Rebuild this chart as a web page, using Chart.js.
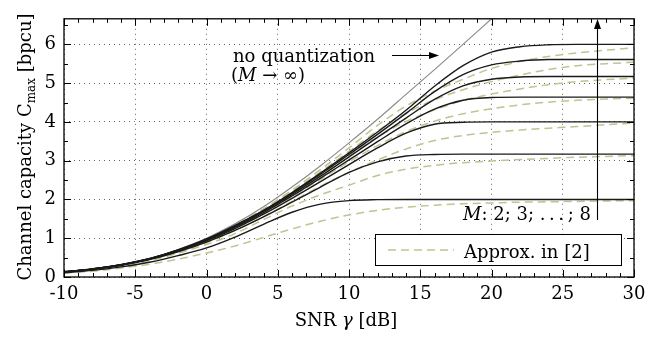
<!DOCTYPE html>
<html>
<head>
<meta charset="utf-8">
<script src="https://cdn.jsdelivr.net/npm/chart.js@4/dist/chart.umd.min.js"></script>
<style>
  body { margin: 0; background: #fff; }
  canvas { display: block; }
</style>
</head>
<body>
<canvas id="capChart" width="657" height="337"></canvas>
<script>
// SNR grid (dB) used for all curves
const snrDb = [-10, -8, -6, -4, -2, 0, 2, 4, 6, 8, 10, 12, 14, 16, 18, 20, 22, 24, 26, 28, 30];

// no quantization (M -> inf), stops where it leaves the plot at 20 dB
const noQuant = [0.14, 0.21, 0.32, 0.48, 0.71, 1.00, 1.37, 1.81, 2.32, 2.87, 3.46, 4.07, 4.71, 5.35, 6.00, 6.66];

// exact capacity, M = 2 ... 8
const capM2 = [0.11, 0.17, 0.26, 0.38, 0.55, 0.75, 1.03, 1.36, 1.67, 1.88, 1.97, 1.995, 2.0, 2.0, 2.0, 2.0, 2.0, 2.0, 2.0, 2.0, 2.0];
const capM3 = [0.13, 0.20, 0.30, 0.45, 0.65, 0.90, 1.20, 1.55, 1.93, 2.32, 2.70, 2.97, 3.12, 3.16, 3.17, 3.17, 3.17, 3.17, 3.17, 3.17, 3.17];
const capM4 = [0.13, 0.20, 0.31, 0.46, 0.67, 0.93, 1.25, 1.62, 2.03, 2.46, 2.90, 3.33, 3.71, 3.94, 3.99, 4.0, 4.0, 4.0, 4.0, 4.0, 4.0];
const capM5 = [0.13, 0.20, 0.31, 0.46, 0.68, 0.95, 1.28, 1.66, 2.09, 2.55, 3.02, 3.49, 3.95, 4.33, 4.56, 4.63, 4.64, 4.64, 4.64, 4.64, 4.64];
const capM6 = [0.135, 0.21, 0.31, 0.47, 0.69, 0.96, 1.30, 1.69, 2.13, 2.60, 3.10, 3.60, 4.10, 4.58, 4.93, 5.10, 5.16, 5.17, 5.17, 5.17, 5.17];
const capM7 = [0.135, 0.21, 0.32, 0.47, 0.69, 0.97, 1.32, 1.71, 2.16, 2.65, 3.16, 3.68, 4.22, 4.78, 5.22, 5.47, 5.57, 5.61, 5.61, 5.61, 5.61];
const capM8 = [0.135, 0.21, 0.32, 0.47, 0.70, 0.98, 1.33, 1.72, 2.18, 2.68, 3.20, 3.74, 4.30, 4.92, 5.45, 5.80, 5.94, 5.99, 6.0, 6.0, 6.0];

// approximation from [2], M = 2 ... 8
const apxM2 = [0.10, 0.15, 0.23, 0.33, 0.46, 0.62, 0.80, 1.02, 1.24, 1.44, 1.60, 1.72, 1.80, 1.85, 1.89, 1.91, 1.93, 1.94, 1.95, 1.96, 1.97];
const apxM3 = [0.12, 0.19, 0.28, 0.42, 0.61, 0.84, 1.12, 1.48, 1.83, 2.12, 2.37, 2.62, 2.78, 2.88, 2.95, 2.99, 3.03, 3.06, 3.09, 3.11, 3.13];
const apxM4 = [0.13, 0.19, 0.29, 0.44, 0.64, 0.89, 1.20, 1.56, 1.95, 2.34, 2.70, 3.02, 3.30, 3.52, 3.65, 3.73, 3.79, 3.84, 3.88, 3.93, 3.97];
const apxM5 = [0.13, 0.20, 0.30, 0.45, 0.66, 0.93, 1.26, 1.64, 2.07, 2.52, 2.97, 3.39, 3.75, 4.02, 4.21, 4.34, 4.44, 4.51, 4.56, 4.59, 4.61];
const apxM6 = [0.13, 0.20, 0.31, 0.46, 0.68, 0.95, 1.30, 1.70, 2.15, 2.64, 3.14, 3.61, 4.01, 4.31, 4.55, 4.72, 4.85, 4.96, 5.04, 5.09, 5.13];
const apxM7 = [0.13, 0.20, 0.31, 0.47, 0.69, 0.97, 1.32, 1.73, 2.20, 2.71, 3.24, 3.77, 4.22, 4.57, 4.83, 5.04, 5.21, 5.35, 5.45, 5.50, 5.54];
const apxM8 = [0.135, 0.21, 0.32, 0.47, 0.70, 0.98, 1.34, 1.76, 2.24, 2.77, 3.33, 3.91, 4.41, 4.79, 5.10, 5.38, 5.56, 5.69, 5.78, 5.85, 5.91];

const xTicks = [-10, -5, 0, 5, 10, 15, 20, 25, 30];
const yTicks = [0, 1, 2, 3, 4, 5, 6];

const FONT = '"DejaVu Serif", serif';
const exactCurves = [capM2, capM3, capM4, capM5, capM6, capM7, capM8];
const approxCurves = [apxM2, apxM3, apxM4, apxM5, apxM6, apxM7, apxM8];

function toPoints(vals) {
  return vals.map((v, i) => ({ x: snrDb[i], y: v }));
}

const datasets = [];
exactCurves.forEach((c, i) => {
  datasets.push({
    label: 'M = ' + (i + 2),
    data: toPoints(c),
    borderColor: '#1a1a1a',
    borderWidth: 1.4,
    pointRadius: 0,
    cubicInterpolationMode: 'monotone',
    order: 0
  });
});
datasets.push({
  label: 'no quantization',
  data: toPoints(noQuant),
  borderColor: '#8c8c8c',
  borderWidth: 1.2,
  pointRadius: 0,
  cubicInterpolationMode: 'monotone',
  order: 1
});
approxCurves.forEach((c, i) => {
  datasets.push({
    label: 'Approx. M = ' + (i + 2),
    data: toPoints(c),
    borderColor: 'rgb(194,194,146)',
    borderWidth: 1.5,
    borderDash: [8, 5],
    pointRadius: 0,
    cubicInterpolationMode: 'monotone',
    order: 2
  });
});

// draws text pieces one after another, each with its own font / shift
function drawRuns(ctx, runs, x, y, align) {
  let total = 0;
  runs.forEach(r => { ctx.font = r.font; total += ctx.measureText(r.t).width; });
  let cx = align === 'center' ? x - total / 2 : x;
  ctx.textAlign = 'left';
  runs.forEach(r => {
    ctx.font = r.font;
    ctx.fillText(r.t, cx, y + (r.dy || 0));
    cx += ctx.measureText(r.t).width;
  });
}

function arrowHead(ctx, x, y, dir) {
  // dir: 'right' or 'up', (x,y) is the tip
  ctx.beginPath();
  if (dir === 'right') {
    ctx.moveTo(x, y); ctx.lineTo(x - 10, y - 3.5); ctx.lineTo(x - 10, y + 3.5);
  } else {
    ctx.moveTo(x, y); ctx.lineTo(x - 3.5, y + 10); ctx.lineTo(x + 3.5, y + 10);
  }
  ctx.closePath();
  ctx.fill();
}

const decorations = {
  id: 'decorations',
  afterDraw(chart) {
    const ctx = chart.ctx;
    const a = chart.chartArea;
    const xs = chart.scales.x, ys = chart.scales.y;
    ctx.save();
    ctx.strokeStyle = '#000';
    ctx.fillStyle = '#000';

    // inward ticks on all four sides
    ctx.lineWidth = 1;
    ctx.beginPath();
    for (let v = -10; v <= 30; v++) {
      const px = Math.round(xs.getPixelForValue(v)) + 0.5;
      const len = v % 5 === 0 ? 7 : 4;
      ctx.moveTo(px, a.bottom); ctx.lineTo(px, a.bottom - len);
      ctx.moveTo(px, a.top); ctx.lineTo(px, a.top + len);
    }
    for (let v = 0; v <= 6.5; v += 0.5) {
      const py = Math.round(ys.getPixelForValue(v)) + 0.5;
      const len = v % 1 === 0 ? 7 : 4;
      ctx.moveTo(a.left, py); ctx.lineTo(a.left + len, py);
      ctx.moveTo(a.right, py); ctx.lineTo(a.right - len, py);
    }
    ctx.stroke();

    // frame
    ctx.lineWidth = 1.3;
    ctx.strokeRect(a.left, a.top, a.right - a.left, a.bottom - a.top);

    // axis titles
    ctx.textBaseline = 'alphabetic';
    drawRuns(ctx, [
      { t: 'SNR ', font: '18px ' + FONT },
      { t: 'γ', font: 'italic 18px ' + FONT },
      { t: ' [dB]', font: '18px ' + FONT }
    ], 346, 326, 'center');

    ctx.save();
    ctx.translate(31, 147);
    ctx.rotate(-Math.PI / 2);
    drawRuns(ctx, [
      { t: 'Channel capacity C', font: '18px ' + FONT },
      { t: 'max', font: '12px ' + FONT, dy: 4 },
      { t: ' [bpcu]', font: '18px ' + FONT }
    ], 0, 0, 'center');
    ctx.restore();

    // "no quantization" annotation
    drawRuns(ctx, [{ t: 'no quantization', font: '18px ' + FONT }], 233, 62, 'left');
    drawRuns(ctx, [
      { t: '(', font: '18px ' + FONT },
      { t: 'M', font: 'italic 18px ' + FONT },
      { t: ' → ∞)', font: '18px ' + FONT }
    ], 231, 81, 'left');
    ctx.lineWidth = 1.1;
    ctx.beginPath();
    ctx.moveTo(392, 55.5); ctx.lineTo(430, 55.5);
    ctx.stroke();
    arrowHead(ctx, 439, 55.5, 'right');

    // growing-M arrow
    ctx.beginPath();
    ctx.moveTo(597.5, 220); ctx.lineTo(597.5, 28);
    ctx.stroke();
    arrowHead(ctx, 597.5, 19, 'up');
    drawRuns(ctx, [
      { t: 'M', font: 'italic 18px ' + FONT },
      { t: ': 2; 3; .\u2009.\u2009.\u2009; 8', font: '18px ' + FONT }
    ], 463, 220, 'left');

    // legend box
    ctx.fillStyle = '#fff';
    ctx.fillRect(375.5, 234.5, 246, 31);
    ctx.lineWidth = 1;
    ctx.strokeRect(375.5, 234.5, 246, 31);
    ctx.strokeStyle = 'rgb(194,194,146)';
    ctx.lineWidth = 1.5;
    ctx.setLineDash([8, 5]);
    ctx.beginPath();
    ctx.moveTo(388, 250); ctx.lineTo(454, 250);
    ctx.stroke();
    ctx.setLineDash([]);
    ctx.fillStyle = '#000';
    drawRuns(ctx, [{ t: 'Approx. in [2]', font: '18px ' + FONT }], 464, 258, 'left');

    ctx.restore();
  }
};

const config = {
  type: 'line',
  data: { datasets: datasets },
  options: {
    responsive: false,
    animation: false,
    devicePixelRatio: 1,
    layout: { padding: { left: 0, top: 9, right: 23, bottom: 0 } },
    plugins: { legend: { display: false }, tooltip: { enabled: false } },
    scales: {
      x: {
        type: 'linear',
        min: -10,
        max: 30,
        afterBuildTicks: s => { s.ticks = xTicks.map(v => ({ value: v })); },
        afterFit: s => { s.height = 60; },
        ticks: { color: '#000', font: { family: FONT, size: 18 }, padding: 7, maxRotation: 0 },
        grid: { color: '#666', lineWidth: 1, drawTicks: false },
        border: { display: false, dash: [1, 4] }
      },
      y: {
        type: 'linear',
        min: 0,
        max: 6.66,
        afterBuildTicks: s => { s.ticks = yTicks.map(v => ({ value: v })); },
        afterFit: s => { s.width = 64; },
        ticks: { color: '#000', font: { family: FONT, size: 18 }, padding: 8 },
        grid: { color: '#666', lineWidth: 1, drawTicks: false },
        border: { display: false, dash: [1, 4] }
      }
    }
  },
  plugins: [decorations]
};

const ctx = document.getElementById('capChart').getContext('2d');
const capChart = new Chart(ctx, config);
</script>
</body>
</html>
